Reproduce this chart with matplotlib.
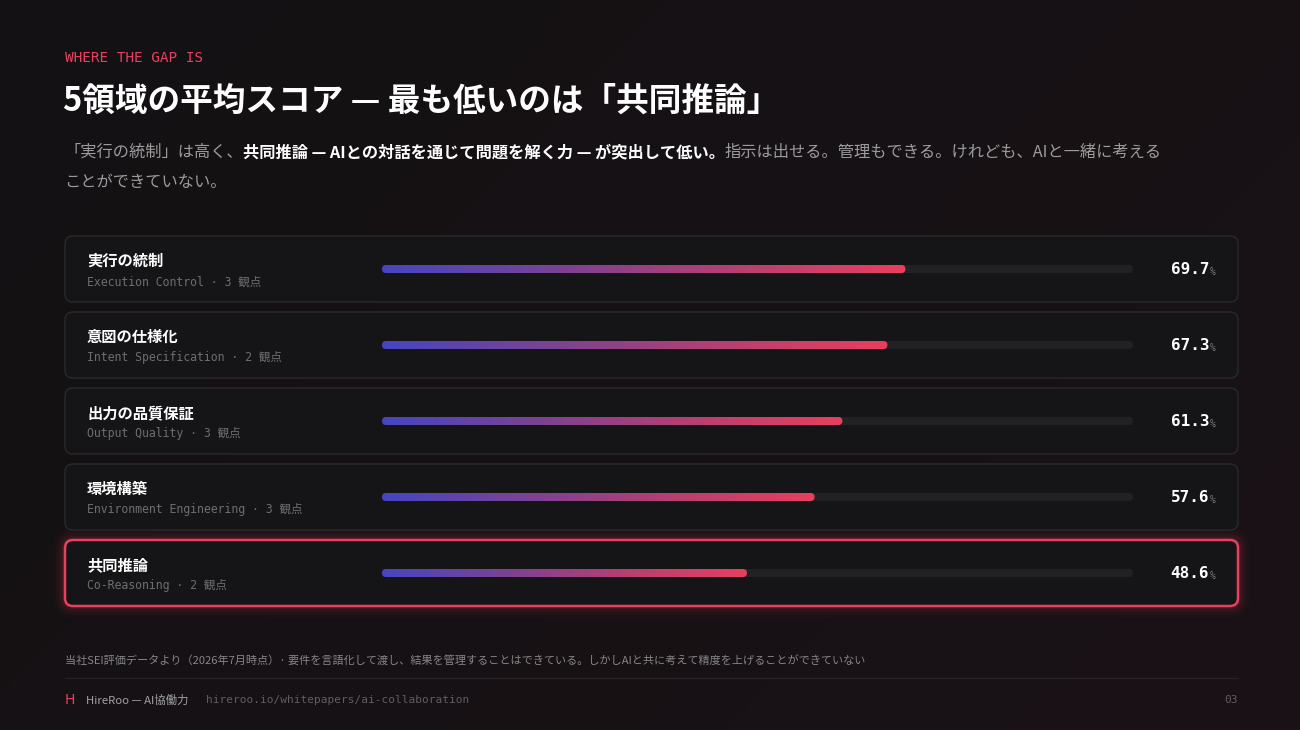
import numpy as np
import matplotlib
matplotlib.use('Agg')
import matplotlib.pyplot as plt
from matplotlib.patches import FancyBboxPatch
from matplotlib.colors import LinearSegmentedColormap

# ---------------- data ----------------
categories = ["実行の統制", "意図の仕様化", "出力の品質保証", "環境構築", "共同推論"]
categories_en = ["Execution Control", "Intent Specification", "Output Quality",
                 "Environment Engineering", "Co-Reasoning"]
viewpoints = [3, 2, 3, 3, 2]
scores = [69.7, 67.3, 61.3, 57.6, 48.6]
highlight = "共同推論"

eyebrow = "WHERE THE GAP IS"
title = "5領域の平均スコア — 最も低いのは「共同推論」"
sub_segments = [("「実行の統制」は高く、", "normal"),
                ("共同推論 — AIとの対話を通じて問題を解く力 — が突出して低い。", "bold"),
                ("指示は出せる。管理もできる。けれども、AIと一緒に考える", "normal")]
sub_line2 = "ことができていない。"
footnote = "当社SEI評価データより（2026年7月時点）· 要件を言語化して渡し、結果を管理することはできている。しかしAIと共に考えて精度を上げることができていない"
footer_brand = "HireRoo — AI協働力"
footer_url = "hireroo.io/whitepapers/ai-collaboration"
page_no = "03"

# ---------------- style ----------------
JP = ['Noto Sans CJK JP', 'DejaVu Sans']
MONO = ['DejaVu Sans Mono', 'Noto Sans CJK JP']
RED = '#e8405e'
BLUE = '#4646c2'
CARD = '#151517'
CARD_EDGE = '#2a2a2d'
TRACK = '#222224'

W, H = 1300, 730
fig = plt.figure(figsize=(13, 7.3), dpi=100)
bg = fig.add_axes([0, 0, 1, 1])
bg.axis('off')

# background gradient
gx = np.linspace(0, 1, 260)
gy = np.linspace(0, 1, 146)
X, Y = np.meshgrid(gx, gy)
t = np.clip(0.65 * X + 0.35 * Y, 0, 1)
c0 = np.array([0x13, 0x11, 0x13]) / 255
c1 = np.array([0x1a, 0x12, 0x16]) / 255
img = c0[None, None, :] * (1 - t[..., None]) + c1[None, None, :] * t[..., None]
bg.imshow(img, extent=(0, W, H, 0), aspect='auto', zorder=0, interpolation='bilinear')
bg.set_xlim(0, W)
bg.set_ylim(H, 0)

# ---------------- header ----------------
bg.text(65, 58, eyebrow, family=MONO, fontsize=10.4, color=RED, va='center', ha='left')
bg.text(63, 101, title, family=JP, fontsize=23.5, color='white', weight='bold',
        va='center', ha='left')

fig.canvas.draw()
renderer = fig.canvas.get_renderer()
x = 64
for seg, wt in sub_segments:
    col = 'white' if wt == 'bold' else '#9c9c9c'
    tx = bg.text(x, 152, seg, family=JP, fontsize=11.7, color=col, weight=wt,
                 va='center', ha='left')
    bb = tx.get_window_extent(renderer=renderer)
    x += bb.width
bg.text(64, 183, sub_line2, family=JP, fontsize=11.7, color='#9c9c9c',
        va='center', ha='left')

# ---------------- cards ----------------
n = len(categories)
top0, pitch, ch = 236, 76, 66
cx0, cx1 = 65, 1238
for i in range(n):
    ty = top0 + i * pitch
    hl = categories[i] == highlight
    if hl:
        for k, a in zip([18, 13, 9, 5], [0.025, 0.04, 0.06, 0.09]):
            bg.add_patch(FancyBboxPatch((cx0, ty), cx1 - cx0, ch,
                                        boxstyle="round,pad=0,rounding_size=9",
                                        fc='none', ec=RED, lw=k, alpha=a, zorder=1))
    bg.add_patch(FancyBboxPatch((cx0, ty), cx1 - cx0, ch,
                                boxstyle="round,pad=0,rounding_size=8",
                                fc=CARD, ec=RED if hl else CARD_EDGE,
                                lw=1.8 if hl else 1.0, zorder=2))
    bg.text(87, ty + 25, categories[i], family=JP, fontsize=11, color='white',
            weight='bold', va='center', ha='left', zorder=3)
    bg.text(87, ty + 46, f"{categories_en[i]} · {viewpoints[i]} 観点", family=MONO,
            fontsize=8.3, color='#6e6e70', va='center', ha='left', zorder=3)
    bg.text(1209, ty + 34, f"{scores[i]:.1f}", family=MONO, fontsize=11.5,
            color='white', weight='bold', va='center', ha='right', zorder=3)
    bg.text(1210, ty + 36, "%", family=MONO, fontsize=7, color='#7a7a7c',
            va='center', ha='left', zorder=3)

# ---------------- bars (own axes, x = percent) ----------------
track_l, track_r = 382, 1133
area_top, area_bot = top0 - 5, top0 + (n - 1) * pitch + ch + 5
bax = fig.add_axes([track_l / W, (H - area_bot) / H, (track_r - track_l) / W,
                    (area_bot - area_top) / H])
bax.set_xlim(0, 100)
bax.set_ylim(n - 0.5, -0.5)
bax.axis('off')
bax.patch.set_alpha(0)

px_x = 100 / (track_r - track_l)          # data units per px in x
px_y = n / (area_bot - area_top)          # data units per px in y
bh = 8 * px_y
rs = 4 * px_x
asp = px_y / px_x
cmap = LinearSegmentedColormap.from_list('g', [BLUE, '#7a4394', '#b63f72', RED])
grad = np.linspace(0, 1, 256)[None, :]

for i, v in enumerate(scores):
    bax.add_patch(FancyBboxPatch((0, i - bh / 2), 100, bh,
                                 boxstyle=f"round,pad=0,rounding_size={rs}",
                                 mutation_aspect=asp, fc=TRACK, ec='none', zorder=2))
    clip = FancyBboxPatch((0, i - bh / 2), v, bh,
                          boxstyle=f"round,pad=0,rounding_size={rs}",
                          mutation_aspect=asp, fc='none', ec='none',
                          transform=bax.transData)
    bax.add_patch(clip)
    im = bax.imshow(grad, cmap=cmap, extent=(0, v, i + bh / 2, i - bh / 2),
                    aspect='auto', zorder=3, interpolation='bilinear')
    im.set_clip_path(clip)

bax.set_xlim(0, 100)
bax.set_ylim(n - 0.5, -0.5)

# ---------------- footer ----------------
bg.text(65, 660, footnote, family=JP, fontsize=8, color='#858587', va='center', ha='left')
bg.plot([65, 1238], [678, 678], color='#232325', lw=1, zorder=1)
bg.text(65, 700, "H", family=['DejaVu Sans'], fontsize=10, color=RED,
        va='center', ha='left')
bg.text(86, 700, footer_brand, family=JP, fontsize=8.2, color='#a2a2a4', va='center', ha='left')
bg.text(206, 700, footer_url, family=MONO, fontsize=8, color='#5e5e60', va='center', ha='left')
bg.text(1238, 700, page_no, family=MONO, fontsize=8, color='#5e5e60', va='center', ha='right')

fig.savefig('out.png', dpi=100, facecolor='#121012')
